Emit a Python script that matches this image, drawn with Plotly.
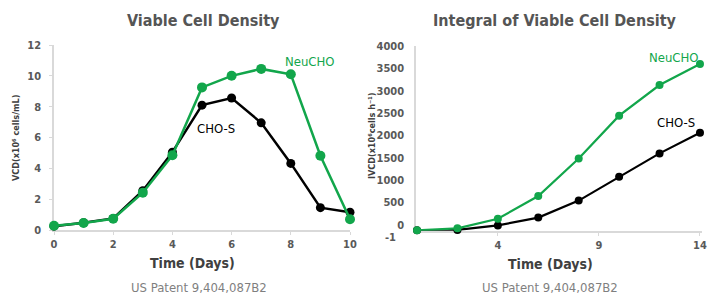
import plotly.graph_objects as go

# ---- data ----
vcd_days = [0, 1, 2, 3, 4, 5, 6, 7, 8, 9, 10]
vcd_chos = [0.25, 0.47, 0.75, 2.55, 5.05, 8.1, 8.56, 6.95, 4.32, 1.45, 1.15]
vcd_neucho = [0.28, 0.45, 0.73, 2.42, 4.85, 9.25, 10.0, 10.45, 10.1, 4.82, 0.7]

ivcd_days = [0, 2, 4, 6, 8, 10, 12, 14]
ivcd_chos = [-120, -110, -10, 165, 545, 1080, 1600, 2062]
ivcd_neucho = [-120, -75, 140, 648, 1487, 2443, 3128, 3597]

left_yticks = [0, 2, 4, 6, 8, 10, 12]
left_xticks = [0, 2, 4, 6, 8, 10]
right_yticks = [0, 500, 1000, 1500, 2000, 2500, 3000, 3500, 4000]
right_xticks = [4, 9, 14]

GREEN = "#12a64b"
BLACK = "#000000"
GREY_TXT = "#595959"
AXIS = "#d9d9d9"
FONT = "DejaVu Sans Condensed, Liberation Sans Narrow, sans-serif"

W, H = 712, 297


def px(x):
    return x / W


def py(y):
    return 1 - y / H


fig = go.Figure()

fig.add_trace(go.Scatter(x=vcd_days, y=vcd_chos, mode="lines+markers",
                         line=dict(color=BLACK, width=2.5),
                         marker=dict(color=BLACK, size=9),
                         cliponaxis=False, xaxis="x", yaxis="y"))
fig.add_trace(go.Scatter(x=vcd_days, y=vcd_neucho, mode="lines+markers",
                         line=dict(color=GREEN, width=2.5),
                         marker=dict(color=GREEN, size=10),
                         cliponaxis=False, xaxis="x", yaxis="y"))
fig.add_trace(go.Scatter(x=ivcd_days, y=ivcd_chos, mode="lines+markers",
                         line=dict(color=BLACK, width=2.2),
                         marker=dict(color=BLACK, size=8),
                         cliponaxis=False, xaxis="x2", yaxis="y2"))
fig.add_trace(go.Scatter(x=ivcd_days, y=ivcd_neucho, mode="lines+markers",
                         line=dict(color=GREEN, width=2.2),
                         marker=dict(color=GREEN, size=8),
                         cliponaxis=False, xaxis="x2", yaxis="y2"))

tickfont = dict(family=FONT, size=11, color=GREY_TXT, weight="bold")
axis_common = dict(showgrid=False, zeroline=False, showline=True, linecolor=AXIS,
                   linewidth=1.5, ticks="outside", ticklen=3, tickcolor=AXIS,
                   tickfont=tickfont, automargin=False, layer="below traces")

fig.update_layout(
    width=W, height=H,
    margin=dict(l=0, r=0, t=0, b=0, autoexpand=False),
    paper_bgcolor="white", plot_bgcolor="white",
    showlegend=False,
    xaxis=dict(domain=[px(54), px(350)], range=[0, 10], tickvals=left_xticks,
               anchor="y", **axis_common),
    yaxis=dict(domain=[py(230), py(45)], range=[0, 12], tickvals=left_yticks,
               anchor="x", ticklabelstandoff=6, **axis_common),
    xaxis2=dict(domain=[px(416), px(702)], range=[-0.05, 14.1], tickvals=right_xticks,
                anchor="y2", **axis_common),
    yaxis2=dict(domain=[py(230.8), py(46)], range=[-130, 4000], tickvals=right_yticks,
                anchor="x2", ticklabelstandoff=8, **axis_common),
)
fig.update_layout(yaxis2=dict(ticks=""))

annos = [
    dict(text="Viable Cell Density", x=px(203), y=py(20), xref="paper", yref="paper",
         font=dict(family=FONT, size=16, color="#555555", weight="bold")),
    dict(text="Integral of Viable Cell Density", x=px(555), y=py(20), xref="paper", yref="paper",
         font=dict(family=FONT, size=16, color="#555555", weight="bold")),
    dict(text="Time (Days)", x=px(192), y=py(263), xref="paper", yref="paper",
         font=dict(family=FONT, size=14, color="#404040", weight="bold")),
    dict(text="Time (Days)", x=px(550), y=py(264), xref="paper", yref="paper",
         font=dict(family=FONT, size=14, color="#404040", weight="bold")),
    dict(text="US Patent 9,404,087B2", x=px(199), y=py(287), xref="paper", yref="paper",
         font=dict(family=FONT, size=13, color="#7f7f7f")),
    dict(text="US Patent 9,404,087B2", x=px(550), y=py(287), xref="paper", yref="paper",
         font=dict(family=FONT, size=13, color="#7f7f7f")),
    dict(text="VCD(x10⁶ cells/mL)", x=px(16), y=py(138), xref="paper", yref="paper",
         textangle=-90, font=dict(family=FONT, size=9, color="#404040", weight="bold")),
    dict(text="IVCD(x10⁶cells h⁻¹)", x=px(372), y=py(136), xref="paper", yref="paper",
         textangle=-90, font=dict(family=FONT, size=9, color="#404040", weight="bold")),
    dict(text="-1", x=px(398), y=py(237), xref="paper", yref="paper", xanchor="right",
         font=tickfont),
    dict(text="NeuCHO", x=8.65, y=10.96, xref="x", yref="y",
         font=dict(family=FONT, size=13, color=GREEN)),
    dict(text="CHO-S", x=5.47, y=6.6, xref="x", yref="y",
         font=dict(family=FONT, size=13, color=BLACK)),
    dict(text="NeuCHO", x=12.7, y=3753, xref="x2", yref="y2",
         font=dict(family=FONT, size=13, color=GREEN)),
    dict(text="CHO-S", x=12.8, y=2300, xref="x2", yref="y2",
         font=dict(family=FONT, size=13, color=BLACK)),
]
for a in annos:
    a.setdefault("showarrow", False)
    a.setdefault("xanchor", "center")
    a.setdefault("yanchor", "middle")
    fig.add_annotation(**a)

fig.write_html("out.html",
               config={"displayModeBar": False},
               post_script="document.body.style.margin='0';document.body.style.overflow='hidden';")
